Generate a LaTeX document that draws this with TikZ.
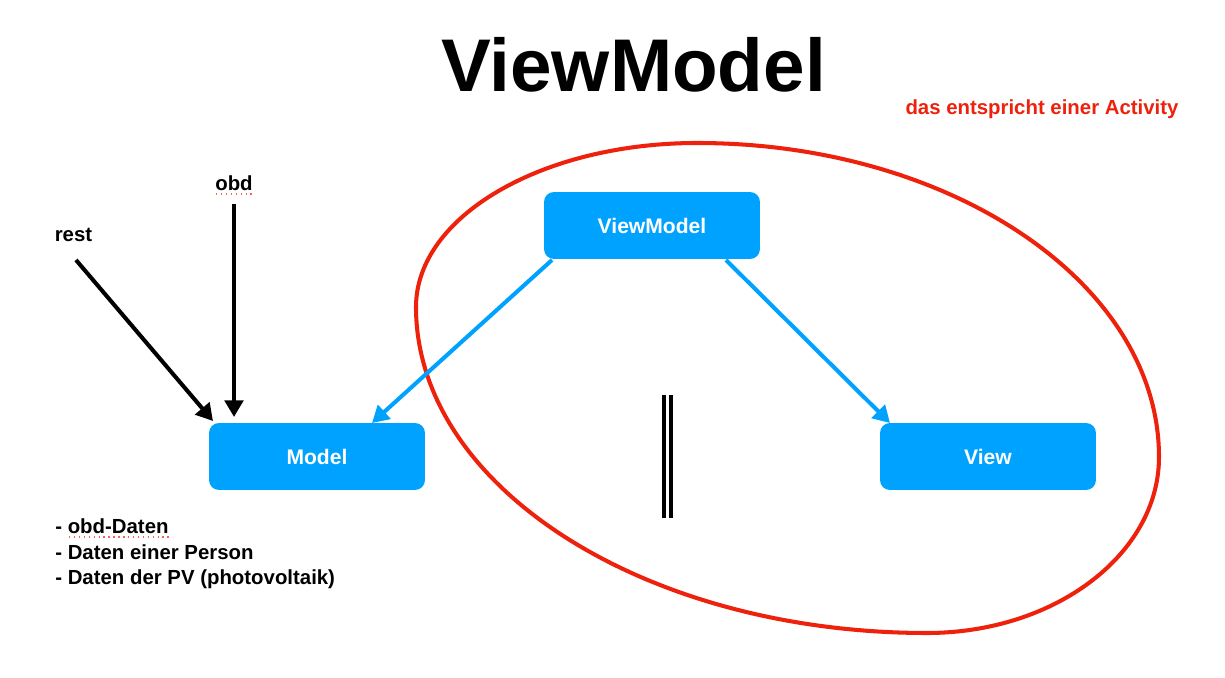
\documentclass[tikz,border=0pt]{standalone}
\usepackage{fontspec}
\setmainfont{Liberation Sans}
\usetikzlibrary{arrows.meta}
\definecolor{kblue}{RGB}{0,162,255}
\definecolor{kred}{RGB}{238,34,12}
\tikzset{
  bluebox/.style={fill=kblue, rounded corners=0.2cm, minimum width=4.32cm, minimum height=1.34cm, inner sep=0pt, text=white, font=\bfseries\fontsize{12}{14}\selectfont},
  lbl/.style={font=\bfseries\fontsize{11.6}{14.5}\selectfont, inner sep=0pt},
  blackarrow/.style={line width=2.3pt, -{Triangle[length=9.5pt,width=10.5pt]}},
  bluearrow/.style={kblue, line width=2.3pt, -{Triangle[length=9.5pt,width=10.5pt]}},
  squiggle/.style={kred!70, line width=0.8pt, dotted}
}
\begin{document}
\begin{tikzpicture}[x=0.02cm, y=-0.02cm]
\useasboundingbox (0,0) rectangle (1225,678);
\fill[white] (0,0) rectangle (1225,678);

% title
\node[font=\bfseries\fontsize{42.5}{50}\selectfont, anchor=base, inner sep=0pt] (title) at (633.5,92) {ViewModel};
\node[lbl, text=kred, anchor=base] (activity) at (1042,115) {das entspricht einer Activity};

% egg-shaped loop
\draw[kred, line width=2.3pt]
  (416,307) .. controls (416,216.5) and (542,143) .. (697,143)
            .. controls (952,143) and (1159,284) .. (1159,457)
            .. controls (1159,554) and (1055,633) .. (927,633)
            .. controls (645,633) and (416,487) .. cycle;

% boxes
\node[bluebox] (vm) at (652,225.5) {ViewModel};
\node[bluebox] (model) at (317,456.5) {Model};
\node[bluebox] (view) at (988,456.5) {View};

% labels
\node[lbl, anchor=base] (rest) at (73.5,242) {rest};
\node[lbl, anchor=base] (obd) at (234,191) {obd};
\draw[squiggle] (216,194) -- (253,194);

\node[lbl, anchor=base west] (l1) at (55,534) {- obd-Daten};
\node[lbl, anchor=base west] (l2) at (55,560) {- Daten einer Person};
\node[lbl, anchor=base west] (l3) at (55,585) {- Daten der PV (photovoltaik)};
\draw[squiggle] (69,537) -- (172,537);

% connector coordinates
\coordinate (restS) at (76,260);
\coordinate (restE) at (213,421);
\coordinate (obdS) at (234,204);
\coordinate (obdE) at (234,417);
\coordinate (vmL) at (552,260);
\coordinate (modelT) at (372,423);
\coordinate (vmR) at (726,260);
\coordinate (viewT) at (890,423);

\draw[blackarrow] (restS) -- (restE);
\draw[blackarrow] (obdS) -- (obdE);
\draw[bluearrow] (vmL) -- (modelT);
\draw[bluearrow] (vmR) -- (viewT);

% double line
\coordinate (d1a) at (663.7,395);
\coordinate (d1b) at (663.7,518);
\coordinate (d2a) at (671.3,395);
\coordinate (d2b) at (671.3,518);
\draw[line width=2.3pt] (d1a) -- (d1b);
\draw[line width=2.3pt] (d2a) -- (d2b);
\end{tikzpicture}
\end{document}
